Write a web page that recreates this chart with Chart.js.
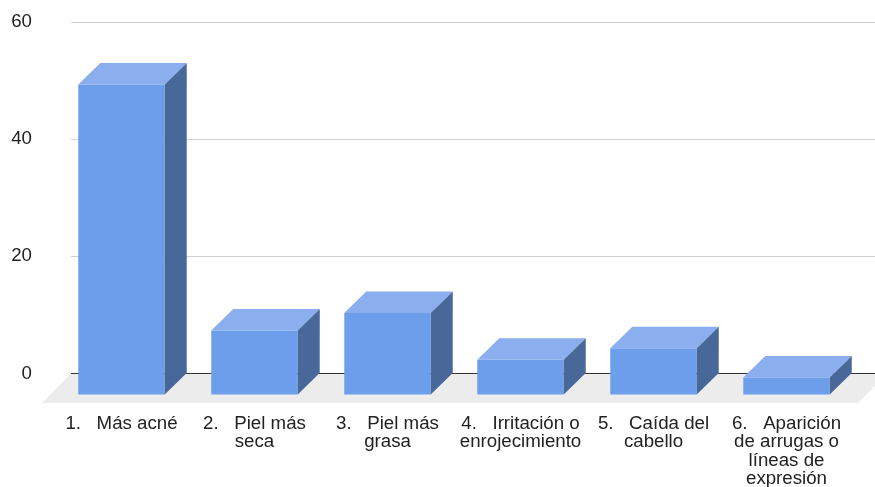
<!DOCTYPE html>
<html>
<head>
<meta charset="utf-8">
<title>Efectos en la piel</title>
<script src="https://cdn.jsdelivr.net/npm/chart.js@4.4.1/dist/chart.umd.min.js"></script>
<style>
  html, body { margin: 0; padding: 0; background: #fff; }
  #wrap { width: 875px; height: 487px; position: relative; }
</style>
</head>
<body>
<div id="wrap"><canvas id="efectosChart"></canvas></div>
<script>
// categorías (etiquetas en varias líneas)
const categorias = [
  ['1.   Más acné'],
  ['2.   Piel más', 'seca'],
  ['3.   Piel más', 'grasa'],
  ['4.   Irritación o', 'enrojecimiento'],
  ['5.   Caída del', 'cabello'],
  ['6.   Aparición', 'de arrugas o', 'líneas de', 'expresión']
];
const respuestas = [53, 11, 14, 6, 8, 3];
const ticksY = [0, 20, 40, 60];

// profundidad del efecto 3D
const DX = 22;
const DY = 21.5;
const FRENTE = '#6d9eeb';
const TAPA = '#8aaeee';
const LADO = '#49689a';
const FUENTE = "'Liberation Sans', Arial, Helvetica, sans-serif";

// sin márgenes extra por el desborde de las etiquetas
function sinRelleno(s) {
  s.paddingLeft = s.paddingRight = s.paddingTop = s.paddingBottom = 0;
}

const barras3d = {
  id: 'barras3d',
  beforeDraw(chart) {
    // suelo gris bajo las barras
    const { ctx, chartArea } = chart;
    const y0 = chart.scales.y.getPixelForValue(0);
    ctx.save();
    ctx.fillStyle = '#ececec';
    ctx.beginPath();
    ctx.moveTo(chartArea.left - 6, y0);
    ctx.lineTo(chartArea.right + 12, y0);
    ctx.lineTo(chartArea.right + 12 - 29, y0 + 29.5);
    ctx.lineTo(chartArea.left - 6 - 29, y0 + 29.5);
    ctx.closePath();
    ctx.fill();
    ctx.restore();
  },
  beforeDatasetsDraw(chart) {
    // la cara frontal se dibuja desplazada hacia delante
    chart.ctx.save();
    chart.ctx.translate(-DX, DY);
  },
  afterDatasetsDraw(chart) {
    const ctx = chart.ctx;
    ctx.restore();
    ctx.save();
    chart.getDatasetMeta(0).data.forEach(bar => {
      const { x, y, base, width } = bar.getProps(['x', 'y', 'base', 'width'], true);
      const l = x - width / 2;
      const r = x + width / 2;
      // tapa
      ctx.fillStyle = TAPA;
      ctx.beginPath();
      ctx.moveTo(l - DX, y + DY);
      ctx.lineTo(r - DX, y + DY);
      ctx.lineTo(r, y);
      ctx.lineTo(l, y);
      ctx.closePath();
      ctx.fill();
      // lateral derecho
      ctx.fillStyle = LADO;
      ctx.beginPath();
      ctx.moveTo(r - DX, y + DY);
      ctx.lineTo(r, y);
      ctx.lineTo(r, base);
      ctx.lineTo(r - DX, base + DY);
      ctx.closePath();
      ctx.fill();
    });
    ctx.restore();
  }
};

new Chart(document.getElementById('efectosChart'), {
  type: 'bar',
  data: {
    labels: categorias,
    datasets: [{
      data: respuestas,
      backgroundColor: FRENTE,
      borderWidth: 0,
      barPercentage: 0.65,
      categoryPercentage: 1
    }]
  },
  options: {
    responsive: true,
    maintainAspectRatio: false,
    animation: false,
    layout: { autoPadding: false, padding: { top: 22, right: 0, left: 0, bottom: 0 } },
    plugins: {
      legend: { display: false },
      tooltip: { enabled: false }
    },
    scales: {
      x: {
        afterFit: s => { s.height = 113.5; sinRelleno(s); },
        grid: { display: false },
        border: { display: false },
        ticks: {
          labelOffset: -DX,
          padding: 33,
          maxRotation: 0,
          autoSkip: false,
          color: '#222',
          font: { size: 18.7, family: FUENTE, lineHeight: 0.985 }
        }
      },
      y: {
        min: 0,
        max: 60,
        afterBuildTicks: s => { s.ticks = ticksY.map(v => ({ value: v })); },
        afterFit: s => { s.width = 77; sinRelleno(s); },
        border: { display: false },
        grid: {
          color: c => (c.tick && c.tick.value === 0 ? '#333' : '#d0d0d0'),
          drawTicks: true,
          tickLength: 6
        },
        ticks: {
          padding: 39,
          color: '#222',
          font: { size: 18.7, family: FUENTE }
        }
      }
    }
  },
  plugins: [barras3d]
});
</script>
</body>
</html>
